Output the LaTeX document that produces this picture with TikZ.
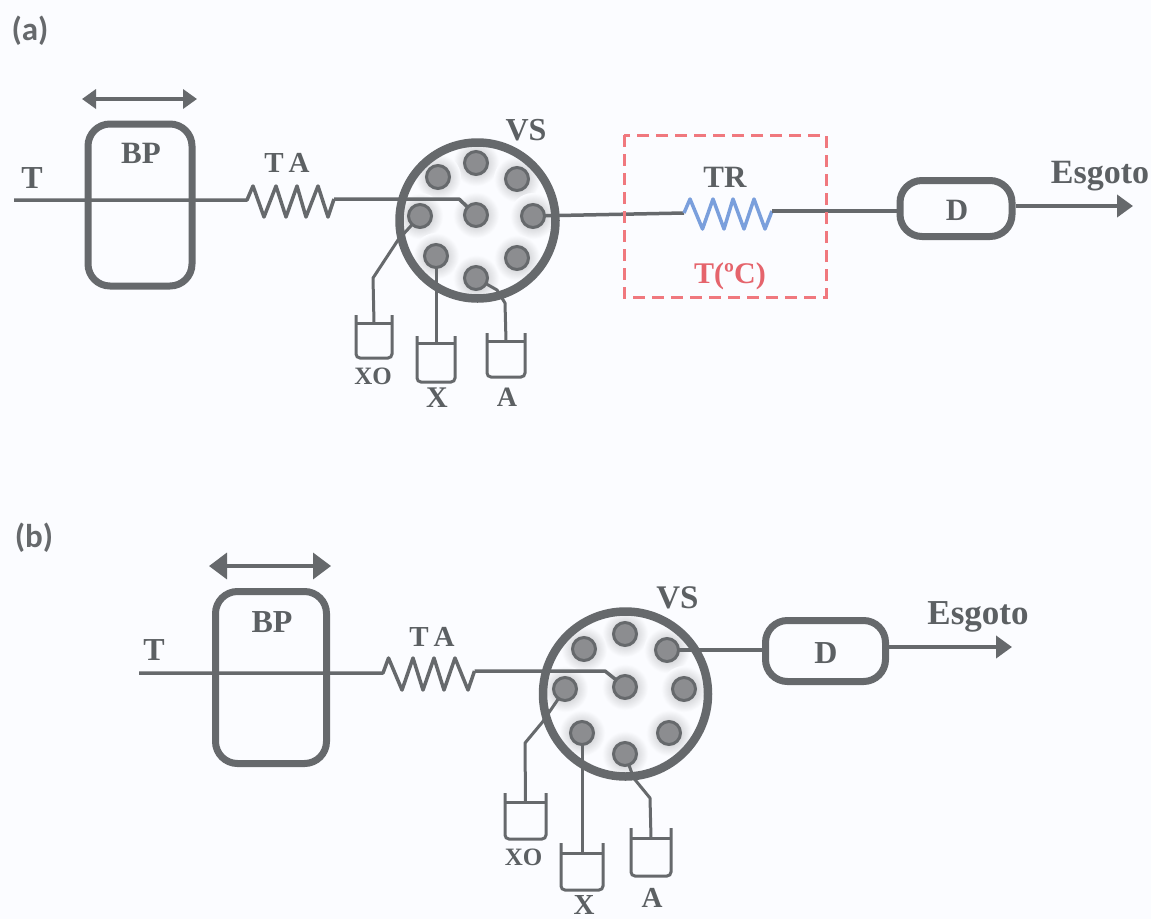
\documentclass[tikz,border=0pt]{standalone}
\usepackage{fontspec}
\setmainfont{Liberation Serif}
\newfontfamily\panelfont{Carlito}
\usetikzlibrary{arrows.meta}
\definecolor{paper}{HTML}{FBFCFF}
\definecolor{ink}{HTML}{66696C}
\definecolor{txt}{HTML}{5C6063}
\definecolor{portfill}{HTML}{8C8D90}
\definecolor{redbox}{HTML}{F0787E}
\definecolor{redtxt}{HTML}{E5646C}
\definecolor{bluecoil}{HTML}{7A9FDC}
\pgfdeclarelayer{bglayer}
\pgfdeclarelayer{glowlayer}
\pgfsetlayers{glowlayer,bglayer,main}
\tikzset{
  lbl/.style={font=\fontsize{#1}{#1}\selectfont\bfseries, text=txt, inner sep=0pt},
  panel/.style={font=\fontsize{33}{33}\selectfont\panelfont\bfseries, text=ink, inner sep=0pt},
  tube/.style={draw=ink, line width=3.5pt, line join=round},
  thin tube/.style={draw=ink, line width=3pt, line join=round},
  boxed/.style={draw=ink, line width=7pt, rounded corners=22pt, inner sep=0pt},
  ring/.style={draw=ink, line width=8.5pt, circle, inner sep=0pt},
  port/.style={circle, draw=ink, fill=portfill, line width=3pt, minimum size=23pt, inner sep=0pt},
  vialline/.style={draw=ink, line width=3pt, rounded corners=4pt},
  flowout/.style={draw=ink, line width=4pt, -{Triangle[length=16pt,width=22pt]}},
  shuttle a/.style={draw=ink, line width=3.5pt, {Triangle[length=14pt,width=19pt]}-{Triangle[length=14pt,width=19pt]}},
  shuttle b/.style={draw=ink, line width=3.5pt, {Triangle[length=18pt,width=26pt]}-{Triangle[length=18pt,width=26pt]}},
}
% \vialat{name}{left}{right}{top}{bottom}{liquid}
\newcommand{\vialat}[6]{%
  \coordinate (#1) at ({(#2+#3)/2},#6);
  \draw[vialline] (#2,#4) -- (#2,#5) -- (#3,#5) -- (#3,#4);
  \draw[thin tube] (#2,#6) -- (#3,#6);
}
% \glowat{x}{y}
\newcommand{\glowat}[2]{%
  \shade[inner color=portfill!65!paper, outer color=paper] (#1,#2) circle (23pt);
}
\begin{document}
\begin{tikzpicture}[x=1pt,y=-1pt]
\useasboundingbox (0,0) rectangle (1151,919);
\begin{pgfonlayer}{glowlayer}
\fill[paper] (0,0) rectangle (1151,919);
\foreach \x/\y in {476/215,476/163,438/177,517/179,420/216,533/216,436/256,517/258,476/278,
                   625/687,625/634,584/649,667/650,565/689,684/689,582/733,669/733,625/754}{\glowat{\x}{\y}}
\end{pgfonlayer}

% ---------- panel (a)
\node[panel] (pa) at (30,31) {(a)};
\node[lbl=32] (ta) at (32,178) {T};
\node[lbl=31] (bpla) at (141,153) {BP};
\node[lbl=29] (tala) at (287,163) {T\,A};
\node[lbl=32] (vsa) at (526,130) {VS};
\node[lbl=31] (trla) at (725,177) {TR};
\node[lbl=30, text=redtxt] (tca) at (730,276) {T(ºC)};
\node[lbl=31] (dla) at (957,210) {D};
\node[lbl=34] (esa) at (1100,176) {Esgoto};
\node[lbl=25] (xola) at (373,376) {XO};
\node[lbl=30] (xla) at (437,398) {X};
\node[lbl=28] (ala) at (507,397) {A};

\node[boxed, minimum width=104pt, minimum height=162pt] (bpa) at (140,205) {};
\coordinate (sal) at (82,99); \coordinate (sar) at (197,99);
\draw[shuttle a] (sal) -- (sar);

\node[ring, minimum size=156pt] (vala) at (477.5,220.5) {};
\node[port] (ca) at (476,215) {};
\node[port] (p1a) at (476,163) {};
\node[port] (p2a) at (438,177) {};
\node[port] (p3a) at (517,179) {};
\node[port] (p4a) at (420,216) {};
\node[port] (p5a) at (533,216) {};
\node[port] (p6a) at (436,256) {};
\node[port] (p7a) at (517,258) {};
\node[port] (p8a) at (476,278) {};

\node[boxed, minimum width=112pt, minimum height=56pt] (da) at (956,208.5) {};
\draw[redbox, line width=3pt, dash pattern=on 12pt off 7pt] (624,135) rectangle (826,297);

\coordinate (ina) at (14,200);
\coordinate (r1a) at (247,200);
\coordinate (r2a) at (334,199);
\coordinate (r3a) at (684,213);
\coordinate (r4a) at (772,211);
\coordinate (outa) at (1133,206);
\begin{pgfonlayer}{bglayer}
\draw[tube] (ina) -- (r1a) -- (253,186) -- (264,217) -- (276,186) -- (286,217) -- (297,186) -- (306,217) -- (318,186) -- (328,217) -- (r2a);
\draw[tube] (r2a) -- (459,199) -- (ca.center);
\draw[tube] (p5a.center) -- (r3a);
\draw[draw=bluecoil, line width=3.5pt, line join=round] (r3a) -- (690,199) -- (702.5,229) -- (713,199) -- (724,229) -- (733,199) -- (744,229) -- (754,199) -- (765,229) -- (r4a);
\draw[tube] (r4a) -- (da.west |- r4a);
\end{pgfonlayer}
\draw[flowout] (da.east |- outa) -- (outa);

\vialat{xoa}{356}{392}{315}{358}{323}
\vialat{xa}{417}{455}{336}{382}{343}
\vialat{aa}{487}{525}{333}{377}{341}
\begin{pgfonlayer}{bglayer}
\draw[thin tube] (xoa) -- (373,278) -- (398,240) -- (p4a.center);
\draw[thin tube] (xa) -- (p6a.center);
\draw[thin tube] (aa) -- (505,303) -- (497,290) -- (p8a.center);
\end{pgfonlayer}

% ---------- panel (b)
\node[panel] (pb) at (34,538) {(b)};
\node[lbl=32] (tb) at (154,650) {T};
\node[lbl=32] (bplb) at (272,622) {BP};
\node[lbl=29] (talb) at (432,637) {T\,A};
\node[lbl=33] (vsb) at (677.5,598) {VS};
\node[lbl=32] (dlb) at (826,653) {D};
\node[lbl=35] (esb) at (978,617) {Esgoto};
\node[lbl=25] (xolb) at (523.5,857) {XO};
\node[lbl=29] (xlb) at (584,905) {X};
\node[lbl=29] (alb) at (652,898) {A};

\node[boxed, minimum width=111pt, minimum height=172pt] (bpb) at (271,677.5) {};
\coordinate (sbl) at (209,566); \coordinate (sbr) at (331,566);
\draw[shuttle b] (sbl) -- (sbr);

\node[ring, minimum size=165pt] (valb) at (625.5,694) {};
\node[port] (cb) at (625,687) {};
\node[port] (p1b) at (625,634) {};
\node[port] (p2b) at (584,649) {};
\node[port] (p3b) at (667,650) {};
\node[port] (p4b) at (565,689) {};
\node[port] (p5b) at (684,689) {};
\node[port] (p6b) at (582,733) {};
\node[port] (p7b) at (669,733) {};
\node[port] (p8b) at (625,754) {};

\node[boxed, minimum width=120pt, minimum height=61pt] (db) at (825.5,651) {};

\coordinate (inb) at (139,673);
\coordinate (r1b) at (383,673);
\coordinate (r2b) at (474.5,671);
\coordinate (outb) at (1012,647);
\begin{pgfonlayer}{bglayer}
\draw[tube] (inb) -- (r1b) -- (388.5,658) -- (402,690) -- (413,658) -- (423,690) -- (434,658) -- (444,690) -- (455,658) -- (468,690) -- (r2b);
\draw[tube] (r2b) -- (605,671) -- (cb.center);
\draw[tube] (p3b.center) -- (db.west |- p3b.center);
\end{pgfonlayer}
\draw[flowout] (db.east |- outb) -- (outb);

\vialat{xob}{505}{546}{793}{839}{802}
\vialat{xb}{561}{603}{843}{890}{853}
\vialat{ab}{631}{671}{828}{876}{838}
\begin{pgfonlayer}{bglayer}
\draw[thin tube] (xob) -- (525,743) -- (542.5,722) -- (p4b.center);
\draw[thin tube] (xb) -- (p6b.center);
\draw[thin tube] (ab) -- (650,798) -- (633.6,778) -- (p8b.center);
\end{pgfonlayer}
\end{tikzpicture}
\end{document}
